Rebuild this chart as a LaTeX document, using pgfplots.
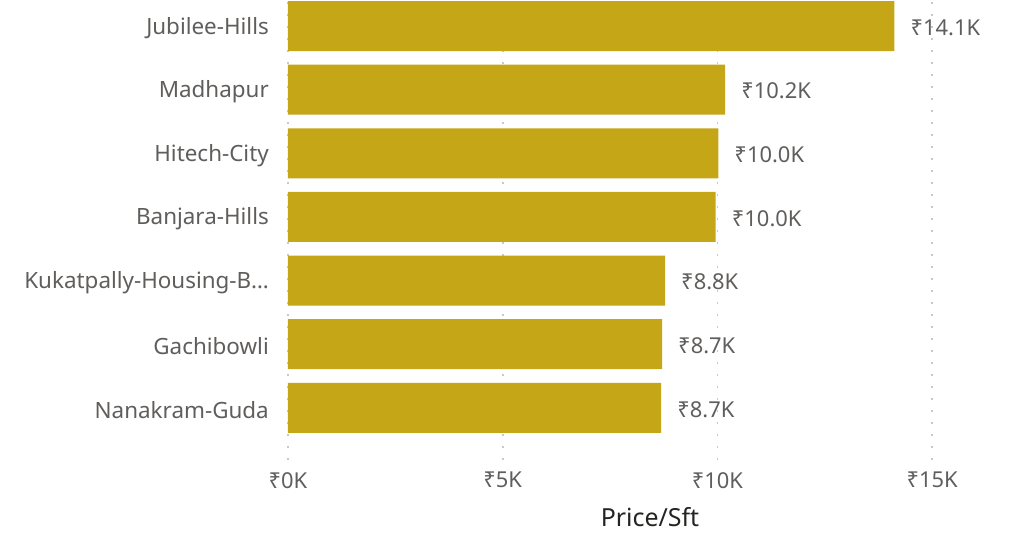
\documentclass[border=0pt]{standalone}
\usepackage{fontspec}
\setmainfont{Noto Sans}
\usepackage{pgfplots}
\pgfplotsset{compat=1.18}
\definecolor{barcol}{HTML}{C4A617}
\definecolor{lblgray}{HTML}{605E5C}
\definecolor{titlecol}{HTML}{252423}
\definecolor{gridcol}{HTML}{C8C8C8}

\begin{document}
\begin{tikzpicture}
\begin{axis}[
  name=ax,
  scale only axis,
  width=724bp, height=460bp,
  xbar, bar width=50bp,
  xmin=0, xmax=16.86,
  ymin=-0.82, ymax=6.41,
  xtick={0,5,10,15},
  ytick={0,...,6},
  yticklabels={Nanakram-Guda,Gachibowli,Kukatpally-Housing-B…,Banjara-Hills,Hitech-City,Madhapur,Jubilee-Hills},
  xticklabel={₹\pgfmathprintnumber{\tick}K},
  /pgf/number format/assume math mode=true,
  axis line style={draw=none},
  major tick length=0pt,
  xmajorgrids,
  ymajorgrids=false,
  grid style={gridcol, line width=1.6bp, dash pattern=on 1.6bp off 10.4bp},
  yticklabel style={inner sep=0pt, xshift=-19bp, yshift=-2bp, font=\fontsize{22.5}{27}\selectfont, text=lblgray},
  xticklabel style={inner sep=0pt, yshift=-12bp, font=\fontsize{22}{26}\selectfont, text=lblgray},
  xlabel={Price/Sft},
  xlabel style={at={(axis description cs:0.5,0)}, anchor=center, yshift=-57bp, font=\fontsize{25}{29}\selectfont, text=titlecol},
  nodes near coords={₹\pgfmathprintnumber[fixed,fixed zerofill,precision=1]{\pgfplotspointmeta}K},
  nodes near coords style={anchor=west, inner sep=0pt, xshift=16bp, yshift=-1.5bp, font=\fontsize{22}{26}\selectfont, text=lblgray},
]
\addplot[fill=barcol, draw=none] coordinates {
  (8.69,0) (8.71,1) (8.78,2) (9.96,3) (10.02,4) (10.18,5) (14.12,6)
};
\end{axis}
\pgfresetboundingbox
\path[use as bounding box] ([xshift=-288bp,yshift=-74bp]ax.south west) rectangle ([xshift=4bp]ax.north east);
\end{tikzpicture}
\end{document}
